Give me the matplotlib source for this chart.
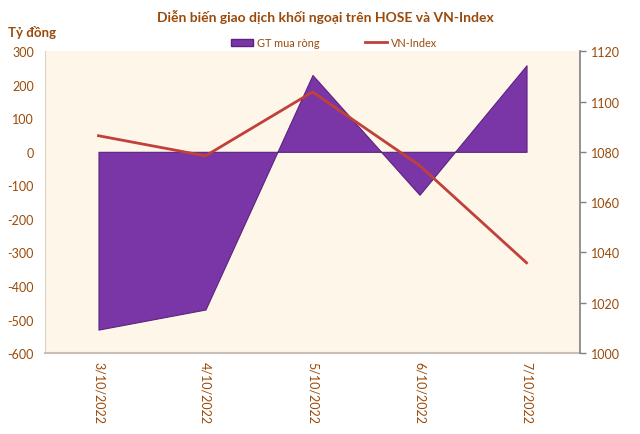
import matplotlib
matplotlib.use("Agg")
import matplotlib.pyplot as plt
from matplotlib.lines import Line2D
from matplotlib.patches import Patch
import numpy as np

plt.rcParams['font.family'] = ['Lato', 'DejaVu Sans']
plt.rcParams['axes.unicode_minus'] = False

dates = ["3/10/2022", "4/10/2022", "5/10/2022", "6/10/2022", "7/10/2022"]
gt_mua_rong = [-530, -470, 229, -128, 258]
vn_index = [1086.4, 1078.4, 1103.8, 1074.6, 1035.9]

txt = '#9A4A0A'
purple = '#7A36A6'
red = '#C0403A'

fig = plt.figure(figsize=(6.4, 4.35), dpi=100)
ax = fig.add_axes([0.0703, 0.186, 0.836, 0.694])
ax.set_facecolor('#FEF6E8')
x = np.arange(len(dates))
ax.fill_between(x, gt_mua_rong, 0, interpolate=True, color=purple,
                edgecolor='#5B2380', linewidth=0.8, zorder=2)
ax.set_xlim(-0.5, 4.5)
ax.set_ylim(-600, 300)
ax.set_yticks(range(-600, 301, 100))
ax.set_xticks(x)
ax.set_xticklabels(dates, rotation=270, color=txt, fontsize=9)
ax.tick_params(axis='x', length=0, pad=6)
ax.tick_params(axis='y', length=0, colors=txt, labelsize=9, pad=8)
for s in ['top', 'right']:
    ax.spines[s].set_visible(False)
ax.spines['left'].set_color('#D9D2C8')
ax.spines['bottom'].set_color('#C8C0B8')
ax.spines['bottom'].set_linewidth(1.5)

ax2 = ax.twinx()
ax2.plot(x, vn_index, color=red, linewidth=2, zorder=5)
ax2.set_ylim(1000, 1120)
ax2.set_yticks(range(1000, 1121, 20))
ax2.tick_params(axis='y', colors=txt, labelsize=9, length=4, width=1, direction='out', pad=4)
ax2.tick_params(axis='y', color='#808080')
for s in ['top', 'left', 'bottom']:
    ax2.spines[s].set_visible(False)
ax2.spines['right'].set_color('#808080')
ax2.spines['right'].set_linewidth(1.2)

fig.text(0.508, 0.962, "Diễn biến giao dịch khối ngoại trên HOSE và VN-Index",
         ha='center', va='center', fontsize=10, fontweight='bold', color=txt)
fig.text(0.012, 0.925, "Tỷ đồng", ha='left', va='center', fontsize=9.5,
         fontweight='bold', color=txt)

handles = [Patch(facecolor=purple, edgecolor='#5B2380'),
           Line2D([0], [0], color=red, linewidth=2)]
fig.legend(handles, ["GT mua ròng", "VN-Index"], loc='center',
           bbox_to_anchor=(0.522, 0.900), ncol=2, frameon=False, fontsize=7.8,
           labelcolor=txt, columnspacing=4.2, handlelength=2.0, handleheight=0.6,
           handletextpad=0.4)

fig.savefig("out.png", dpi=100, facecolor='white')
